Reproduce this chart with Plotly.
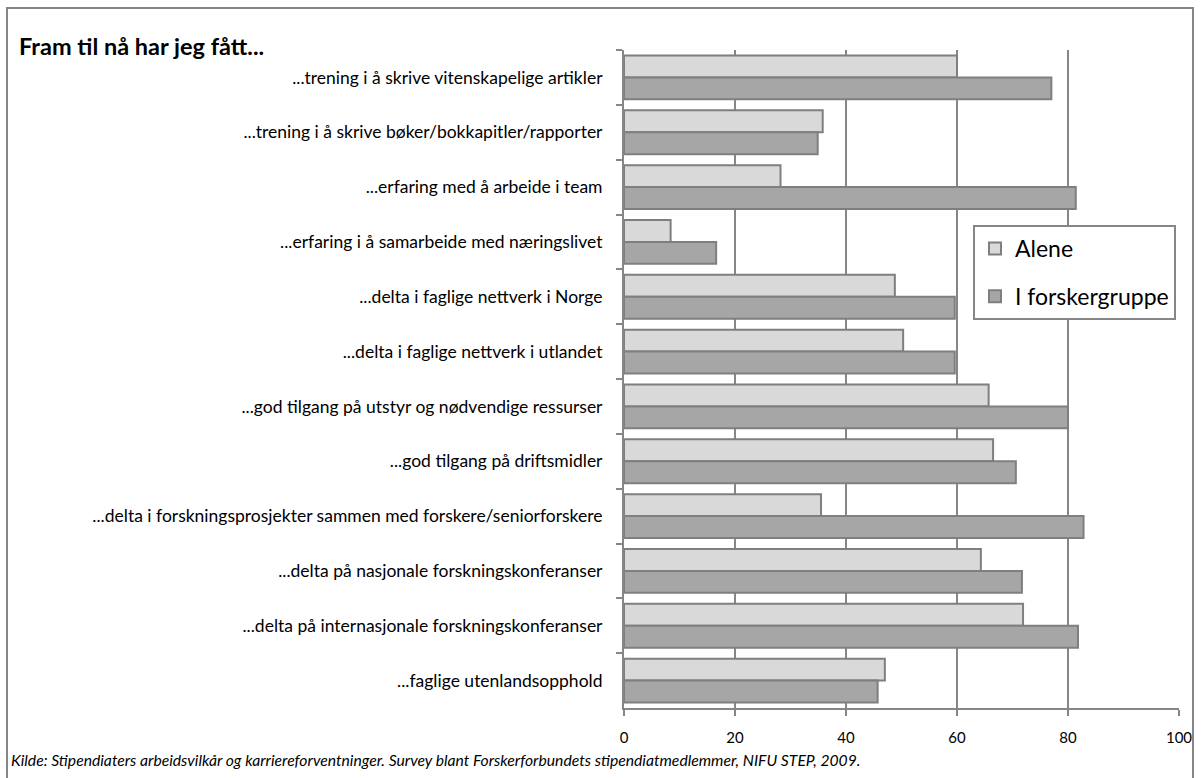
import plotly.graph_objects as go

categories = [
    "...trening i å skrive vitenskapelige artikler",
    "...trening i å skrive bøker/bokkapitler/rapporter",
    "...erfaring med å arbeide i team",
    "...erfaring i å samarbeide med næringslivet",
    "...delta i faglige nettverk i Norge",
    "...delta i faglige nettverk i utlandet",
    "...god tilgang på utstyr og nødvendige ressurser",
    "...god tilgang på driftsmidler",
    "...delta i forskningsprosjekter sammen med forskere/seniorforskere",
    "...delta på nasjonale forskningskonferanser",
    "...delta på internasjonale forskningskonferanser",
    "...faglige utenlandsopphold",
]
alene = [60, 35.8, 28.2, 8.4, 48.8, 50.3, 65.7, 66.5, 35.5, 64.3, 71.9, 47.0]
forskergruppe = [77, 34.9, 81.4, 16.6, 59.6, 59.6, 80.0, 70.6, 82.8, 71.7, 81.8, 45.7]
x_ticks = [0, 20, 40, 60, 80, 100]

title_text = "Fram til nå har jeg fått..."
source_text = ("Kilde: Stipendiaters arbeidsvilkår og karriereforventninger. "
               "Survey blant Forskerforbundets stipendiatmedlemmer, NIFU STEP, 2009.")

W, H = 1201, 778
L, R, T, B = 624, 22, 50, 70
pw, ph = W - L - R, H - T - B


def px(x):
    return (x - L) / pw


def py(y):
    return (H - B - y) / ph


GRID = "#868686"
EDGE = "#7f7f7f"
FONT = "Lato, 'Open Sans', sans-serif"

fig = go.Figure()
fig.add_trace(go.Bar(
    y=categories, x=alene, name="Alene", orientation="h",
    marker=dict(color="#d9d9d9", line=dict(color=EDGE, width=2)),
    legendgroup="a",
))
fig.add_trace(go.Bar(
    y=categories, x=forskergruppe, name="I forskergruppe", orientation="h",
    marker=dict(color="#a6a6a6", line=dict(color=EDGE, width=2)),
    legendgroup="b",
))

fig.update_layout(
    width=W, height=H,
    margin=dict(l=L, r=R, t=T, b=B, autoexpand=False),
    paper_bgcolor="white", plot_bgcolor="white",
    barmode="group", bargap=0.2, bargroupgap=0,
    font=dict(family=FONT, color="black", size=17),
    legend=dict(
        x=px(973), y=py(225), xanchor="left", yanchor="top",
        bgcolor="white", bordercolor=GRID, borderwidth=2,
        font=dict(size=23, family=FONT), tracegroupgap=15,
        traceorder="grouped",
    ),
    xaxis=dict(
        range=[0, 100], tickvals=x_ticks, showgrid=True, gridcolor=GRID,
        gridwidth=2, zeroline=False, showline=True, linecolor=GRID,
        linewidth=2, ticks="outside", ticklen=6, tickcolor=GRID,
        tickwidth=2, tickfont=dict(size=15), ticklabelstandoff=9,
        fixedrange=True,
    ),
    yaxis=dict(
        autorange="reversed", showline=True, linecolor=GRID, linewidth=2,
        ticks="outside", ticklen=6, tickcolor=GRID, tickwidth=2,
        tickson="boundaries", showgrid=False, tickfont=dict(size=17.5),
        ticklabelstandoff=16, fixedrange=True,
    ),
    shapes=[dict(
        type="rect", xref="paper", yref="paper",
        x0=px(7), x1=px(1193), y0=py(781), y1=py(8),
        line=dict(color=GRID, width=2), layer="below",
    )],
    annotations=[
        dict(text="<b>" + title_text + "</b>", xref="paper", yref="paper",
             x=px(17), y=py(46), xanchor="left", yanchor="middle",
             showarrow=False, font=dict(size=23.5, family=FONT)),
        dict(text="<i>" + source_text + "</i>", xref="paper", yref="paper",
             x=px(9), y=py(760), xanchor="left", yanchor="middle",
             showarrow=False, font=dict(size=15.7, family=FONT)),
    ],
)

fig.write_html("out.html")
